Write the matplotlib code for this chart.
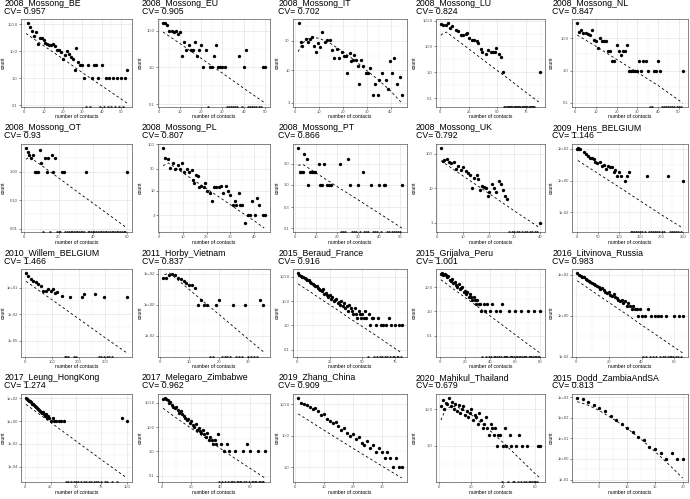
import numpy as np
import matplotlib.pyplot as plt
from matplotlib.ticker import NullFormatter

plt.rcParams['font.family'] = ['Liberation Sans', 'DejaVu Sans']

W, H = 690, 499

# ---- data: contacts, counts, fitted curve, zero-count contacts ----
be_x = [2, 3, 4, 5, 6, 7, 8, 9, 10, 11, 12, 13, 14, 15, 16, 17, 18, 19, 20, 21, 22, 23, 24, 25, 26, 27, 28, 29, 30, 31, 33, 35, 36, 37, 38, 40, 42, 44, 46, 48, 50, 52, 53]
be_n = [110, 80, 58, 36, 52, 18, 30, 30, 25, 20, 18, 17, 17, 18, 15, 11, 11, 9, 5, 7, 10, 8, 6, 5, 2, 13, 4, 3, 3, 1, 3, 1, 3, 3, 1, 3, 1, 1, 1, 1, 1, 1, 2]
be_fx = [1, 10, 20, 30, 40, 53]
be_fy = [45, 16, 5.2, 1.6, 0.52, 0.12]
be_zero = [32, 34, 39, 41, 43, 45, 47, 49, 51]

eu_x = [2, 3, 4, 5, 6, 7, 8, 9, 10, 11, 12, 13, 14, 15, 16, 17, 18, 19, 20, 21, 22, 24, 25, 26, 27, 28, 29, 30, 31, 38, 40, 41, 49, 50]
eu_n = [16, 16, 14, 10, 10, 9, 10, 8, 9, 2, 5, 3, 4, 3, 3, 5, 2, 3, 4, 1, 3, 1, 1, 2, 4, 1, 1, 1, 1, 2, 1, 3, 1, 1]
eu_fx = [2, 10, 20, 30, 40, 50]
eu_fy = [9.1, 4.4, 1.74, 0.69, 0.27, 0.107]
eu_zero = [23, 32, 33, 34, 35, 36, 37, 39, 42, 43, 44, 45, 46, 47, 48]

it_x = [1.5, 2.4, 3.1, 4.4, 5.5, 6.4, 7.1, 7.8, 8.9, 9.5, 10.5, 11.4, 12.5, 13.4, 14.5, 15.4, 16.5, 17.6, 18.5, 19.5,
        20.4, 21.2, 21.7, 22.8, 23.6, 24.2, 24.6, 25.5, 26.3, 26.8, 27.5, 28.6, 29.5, 30.6, 31.5, 32.6, 33.6, 34.6, 35.3, 36.6,
        37.9, 38.9, 39.6, 40.4, 41.3, 42.7, 43.8, 44.7]
it_n = [58, 29, 25, 32, 29, 32, 34, 25, 20, 28, 24, 41, 29, 31, 31, 21, 16, 22, 16, 20,
        17, 17, 9, 19, 14, 15, 18, 15, 12, 6, 15, 12, 9, 9, 11, 4, 6, 4, 7, 9,
        7, 5, 14, 9, 16, 6, 8, 4]
it_fx = [1.3, 3, 5, 7, 10, 15, 20, 25, 30, 35, 40, 44.7]
it_fy = [20, 27, 32, 34, 33, 27, 20, 14.5, 10, 7, 4.7, 3.0]
it_zero = []

lu_x = [1, 3, 5, 7, 9, 11, 14, 16, 18, 20, 23, 24, 25, 28, 30, 32, 33, 36, 37, 40, 42, 44, 46, 48, 49, 51, 53, 55, 87]
lu_n = [76, 70, 66, 81, 52, 61, 45, 39, 27, 27, 30, 34, 22, 18, 17, 16, 13, 8, 6, 5, 7, 6, 6, 6, 9, 5, 4, 1, 1]
lu_fx = [1, 3, 6, 10, 20, 30, 40, 50, 60, 70, 80, 87]
lu_fy = [27, 33, 36, 26, 12, 5.5, 2.5, 1.15, 0.54, 0.24, 0.11, 0.064]
lu_zero = [56, 57, 58, 59, 60, 61, 62, 63, 64, 65, 66, 67, 68, 69, 70, 71, 72, 73, 74, 75, 76, 77, 78, 79, 80, 81, 82]

nl_x = [1, 2, 3, 4, 5, 6, 7, 8, 9, 10, 11, 12, 13, 14, 15, 16, 17, 18, 19, 20, 21, 22, 23, 24, 25, 26, 27, 28, 29, 30,
        31, 32, 33, 34, 35, 38, 39, 40, 41, 52]
nl_n = [29, 15, 18, 14, 14, 13, 12, 18, 9, 8, 5, 10, 8, 8, 8, 4, 4, 2, 2, 6, 4, 3, 4, 4, 6, 1, 1, 1, 1, 1,
        2, 1, 2, 2, 1, 1, 1, 2, 1, 1]
nl_fx = [1, 10, 20, 30, 40, 52]
nl_fy = [12.3, 5.6, 2.2, 0.88, 0.35, 0.1]
nl_zero = [36, 37, 42, 43, 44, 45, 46, 47, 48, 49, 50, 51]

ot_x = [1, 2, 3, 4, 5, 6, 7, 8, 9, 10, 12, 13, 14, 16, 17, 18, 22, 23, 36, 60]
ot_n = [7, 5, 4, 3, 4, 1, 1, 1, 6, 2, 3, 1, 3, 4, 1, 3, 1, 1, 1, 1]
ot_fx = [1, 3, 10, 20, 30, 40, 50, 60]
ot_fy = [2.8, 3.4, 1.7, 0.62, 0.22, 0.08, 0.029, 0.0105]
ot_zero = [11, 15, 19, 20, 21, 24, 25, 26, 27, 28, 29, 30, 31, 32, 33, 34, 35, 37, 38, 39, 40, 41, 42, 43, 44,
           45, 46, 47, 48, 49, 50, 51, 52, 53, 54, 55, 56, 57, 58, 59]

pl_x = [1.7, 2.7, 3.8, 4.7, 5.8, 6.7, 7.8, 8.7, 9.7, 10.7, 11.7, 12.8, 13.7, 14.2, 14.8, 15.7, 16.5, 16.8, 17.7, 18.8,
        19.5, 20.4, 21.5, 22.5, 23.1, 24.2, 25.2, 26.2, 27.1, 28.2, 29.1, 29.9, 31.1, 31.8, 32.5, 33.6, 34.2, 34.9, 36.2, 37.3,
        38.3, 39.2, 40.3, 41.3, 42.3, 43.6, 44.6]
pl_n = [84, 51, 48, 31, 39, 29, 36, 29, 39, 25, 29, 26, 28, 17, 15, 22, 21, 12, 13, 12,
        15, 10, 9, 6, 12, 12, 12, 13, 9, 13, 10, 8, 5, 6, 5, 9, 5, 5, 2, 3,
        3, 6, 3, 7, 5, 3, 3]
pl_fx = [1.7, 4, 8, 15, 20, 25, 30, 35, 40, 44.3]
pl_fy = [35, 40, 29, 16.6, 11.2, 7.6, 5.1, 3.4, 2.3, 1.6]
pl_zero = []

pt_x = [1.6, 2.3, 3.1, 3.9, 4.5, 5.6, 6.2, 7.4, 8.2, 9.0, 9.8, 11.3, 12.1, 12.9, 14.1, 15.2, 16.3, 17.2, 21.4, 25.3,
        26.2, 30.2, 32.2, 36.1, 40.0, 42.3, 43.1, 50.9]
pt_n = [7, 2, 2, 2, 5, 4, 1, 2, 2, 2, 2, 3, 1, 1, 3, 1, 1, 1, 3, 4, 1, 1, 2, 1, 1, 1, 1, 1]
pt_fx = [1.6, 4, 10, 20, 30, 40, 50.9]
pt_fy = [2.8, 2.9, 1.87, 0.91, 0.45, 0.22, 0.1]
pt_zero = [22, 23, 24, 27, 28, 29, 31, 33, 34, 35, 37, 38, 39, 41, 44, 45, 46, 47, 48, 49, 50]

uk_x = [1.5, 2.2, 2.8, 3.7, 4.6, 5.5, 6.4, 7.4, 8.3, 9.2, 10.1, 11.1, 11.9, 12.7, 13.5, 14.4, 15.4, 16.0, 16.6, 17.5,
        18.1, 19.1, 19.7, 20.3, 21.2, 22.2, 23.0, 24.0, 24.9, 25.5, 26.5, 27.3, 40.0]
uk_n = [148, 63, 66, 71, 59, 54, 59, 37, 45, 34, 42, 32, 28, 25, 10, 20, 24, 18, 9, 12,
        11, 10, 6, 8, 13, 10, 8, 16, 13, 9, 6, 5, 1]
uk_fx = [1.5, 10, 20, 30, 40]
uk_fy = [63, 23, 7.2, 2.2, 0.7]
uk_zero = [28, 29, 30, 31, 32, 33, 34, 35, 36, 37, 38, 39]

hens_x = [1, 2, 4, 8, 16.5, 20.6, 26.4, 31.4, 35.5, 39.6, 43.7, 47.9, 53.6, 59.4, 64.4, 70, 74, 78, 82.5, 86.6,
          90.8, 94.9, 99, 104.8, 113, 118, 123.8, 165, 214.5, 250]
hens_n = [105, 115, 100, 95, 67, 45, 35, 27, 27, 24, 16, 13, 15, 8, 9, 5.4, 8, 7.5, 7, 3.5,
          4.5, 2, 3.5, 2, 1, 2, 3.5, 2, 2, 1]
hens_fx = [2.5, 50, 100, 150, 200, 250]
hens_fy = [18.6, 2.8, 0.38, 0.051, 0.0068, 0.001]
hens_zero = [127, 130, 135, 140, 145, 150, 155, 160, 170, 175, 180, 185, 190, 195, 200, 205, 220, 225, 230, 235, 240, 245]

wi_x = [4, 12.5, 22.5, 31, 40, 50, 59, 69, 77.5, 87.5, 96, 106, 112.5, 119, 137.5, 169, 212, 222, 262, 294, 381]
wi_n = [490, 205, 100, 66, 44, 28, 18, 5, 5, 7.7, 4.2, 7.7, 2.7, 3.3, 1.1, 1, 1, 2, 2, 1, 1]
wi_fx = [4, 100, 200, 300, 381]
wi_fy = [56, 0.47, 0.0032, 2.1e-5, 4e-7]
wi_zero = [150, 155, 160, 185, 190, 275, 285, 295, 305, 315, 325]

hb_x = [1, 2, 3, 4, 5, 6, 7, 8, 9, 10, 11, 12, 13, 14, 15, 16, 19, 20, 25, 29, 34, 35]
hb_n = [50, 55, 80, 90, 88, 55, 45, 32, 24, 20, 18, 12, 1, 2, 1, 1, 1, 2, 1, 1, 2, 1]
hb_fx = [1.5, 3.2, 5, 10, 15, 20, 25, 30, 35.8]
hb_fy = [87, 110, 57, 9.3, 1.5, 0.25, 0.04, 0.0065, 0.0008]
hb_zero = [17, 18, 21, 22, 23, 24, 26, 27, 28, 30, 31, 32, 33]

br_x = [1, 2, 3, 4, 5, 6, 7, 8, 9, 10, 11, 12, 13, 14, 15, 16, 17, 18, 19, 20, 21, 22, 23, 24, 25, 26, 27, 28, 29, 30,
        31, 32, 33, 34, 35, 36, 37, 38, 39, 40, 41, 42, 43, 44, 45, 46, 47, 48, 49, 50, 51, 52, 53, 55, 56, 57, 58,
        60, 62, 64, 66, 68, 70, 72, 75, 78, 80]
br_n = [140, 120, 110, 100, 95, 90, 80, 70, 75, 60, 55, 50, 45, 40, 42, 35, 30, 28, 25, 30, 20, 22, 18, 15, 17, 12, 14, 10, 11, 12,
        8, 9, 7, 10, 6, 8, 5, 6, 4, 7, 5, 4, 3, 5, 3, 2, 4, 3, 2, 3, 2, 4, 2, 3, 1, 2, 2,
        1, 2, 1, 1, 1, 2, 1, 1, 1, 1]
br_fx = [1, 10, 20, 30, 40, 50, 60, 70, 80]
br_fy = [50, 24, 10.5, 4.7, 2.0, 0.9, 0.4, 0.17, 0.075]
br_zero = [54, 59, 61, 63, 65, 67, 69, 71, 73, 74, 76, 77, 79]

gr_x = [1, 2, 3, 4, 5, 6, 7, 8, 9, 10, 11, 12, 13, 14, 15, 16, 17, 18, 19, 20, 21, 22, 23, 24, 25, 26, 27, 28, 29, 30,
        31, 32, 33, 35, 36, 38, 40, 42, 45, 48, 50, 55, 60, 65, 70, 75, 80]
gr_n = [35, 38, 30, 35, 30, 25, 28, 20, 18, 22, 15, 16, 12, 10, 14, 8, 9, 10, 6, 7, 5, 6, 4, 5, 4, 3, 4, 3, 2, 3,
        2, 2, 1, 2, 1, 2, 1, 2, 1, 1, 2, 1, 1, 1, 1, 1, 1]
gr_fx = [1, 10, 20, 30, 40, 50, 60, 70, 80]
gr_fy = [20, 9, 3.8, 1.6, 0.65, 0.27, 0.11, 0.045, 0.019]
gr_zero = [34, 37, 39, 41, 43, 44, 46, 47, 49, 51, 52, 53, 54, 56, 57, 58, 59, 61, 62, 63, 64, 66, 67, 68, 69,
           71, 72, 73, 74, 76, 77, 78, 79]

lv_x = [1, 2, 3, 4, 5, 6, 7, 8, 9, 10, 11, 12, 13, 14, 15, 16, 17, 18, 19, 20, 21, 22, 23, 24, 25, 26, 27, 28, 29, 30,
        31, 32, 33, 34, 35, 36, 37, 38, 39, 40, 42, 44, 46, 48, 50, 52, 55, 60, 63, 65]
lv_n = [120, 100, 90, 80, 75, 60, 55, 50, 45, 40, 35, 30, 28, 25, 20, 22, 18, 15, 12, 14, 10, 9, 11, 8, 7, 6, 5, 6, 4, 5,
        3, 4, 3, 2, 3, 2, 2, 1, 2, 1, 1, 2, 1, 1, 1, 1, 1, 1, 1, 1]
lv_fx = [1, 10, 20, 30, 40, 50, 60, 65]
lv_fy = [50, 16, 4.5, 1.3, 0.35, 0.1, 0.028, 0.015]
lv_zero = [41, 43, 45, 47, 49, 51, 53, 54, 56, 57, 58, 59, 61, 62, 64]

lg_x = [1, 2, 3, 4, 5, 6, 7, 8, 9, 10, 11, 12, 13, 14, 15, 16, 17, 18, 19, 20, 21, 22, 23, 24, 25,
        27, 28, 30, 33, 35, 38, 95, 100]
lg_n = [110, 90, 80, 60, 55, 45, 35, 30, 25, 20, 18, 15, 12, 10, 8, 7, 5, 6, 4, 3, 4, 2, 3, 2, 1,
        2, 1, 1, 1, 1, 1, 2, 1]
lg_fx = [1, 25, 50, 75, 100]
lg_fy = [30, 0.8, 0.018, 4e-4, 1e-5]
lg_zero = [40, 42, 45, 48, 50, 52, 55, 58, 60, 63, 65, 68, 70, 72, 75, 78, 80, 85, 90]

mg_x = [1, 2, 3, 4, 5, 6, 7, 8, 9, 10, 11, 12, 13, 14, 15, 16, 17, 18, 19, 20, 21, 22, 23, 24, 25, 26, 27, 28, 29, 30,
        31, 32, 33, 34, 35, 36, 37, 38, 40, 42, 44, 46, 50, 55, 58, 60, 65, 70]
mg_n = [150, 160, 140, 130, 100, 110, 80, 70, 60, 65, 50, 40, 45, 35, 30, 25, 20, 22, 15, 18, 12, 10, 14, 8, 9, 7, 6, 8, 5, 4,
        6, 3, 4, 3, 2, 3, 2, 5, 2, 1, 2, 1, 1, 1, 2, 1, 1, 1]
mg_fx = [1, 10, 20, 30, 40, 50, 60, 70]
mg_fy = [60, 24, 9, 3.5, 1.3, 0.5, 0.2, 0.08]
mg_zero = [39, 41, 43, 45, 47, 48, 49, 51, 52, 53, 54, 56, 57, 59, 61, 62, 63, 64, 66, 67, 68, 69]

zh_x = [1, 2, 3, 4, 5, 6, 7, 8, 9, 10, 11, 12, 13, 14, 15, 16, 17, 18, 19, 20, 21, 22, 23, 24, 25, 26, 27, 28, 29, 30,
        31, 32, 33, 34, 35, 36, 37]
zh_n = [160, 110, 100, 95, 80, 70, 75, 60, 45, 50, 35, 30, 25, 28, 20, 15, 18, 12, 10, 11, 8, 9, 6, 5, 7, 4, 5, 3, 4, 3,
        2, 3, 2, 1, 2, 1, 1]
zh_fx = [1, 10, 20, 30, 37]
zh_fy = [50, 15, 4, 1.1, 0.45]
zh_zero = []

mh_x = [1, 2, 3, 4, 5, 6, 7, 8, 9, 10, 11, 12, 13, 14, 15, 16, 17, 18, 19, 20, 21, 22, 23, 24, 25, 26, 27, 28, 29, 30,
        31, 32, 33, 34, 35, 36, 37, 38, 40, 41, 42, 44, 45, 48, 50, 52, 55, 62, 63]
mh_n = [12, 18, 10, 15, 14, 20, 12, 16, 10, 14, 9, 13, 8, 10, 12, 7, 9, 6, 8, 10, 5, 7, 6, 4, 8, 5, 3, 4, 6, 3,
        2, 4, 3, 2, 3, 1, 2, 2, 1, 3, 1, 2, 1, 1, 2, 1, 1, 1, 1]
mh_fx = [1, 4, 8, 12, 20, 30, 40, 50, 60, 63]
mh_fy = [5, 10, 12, 11, 7, 3, 1.2, 0.45, 0.17, 0.13]
mh_zero = [39, 43, 46, 47, 49, 51, 53, 54, 56, 57, 58, 59, 60, 61]

dd_x = [1, 2, 3, 4, 5, 6, 7, 8, 9, 10, 11, 12, 13, 14, 15, 16, 17, 18, 19, 20]
dd_n = [900, 800, 600, 400, 300, 200, 120, 80, 50, 30, 20, 12, 8, 4, 3, 2, 1, 2, 1, 1]
dd_fx = [1, 3, 5, 8, 10, 13, 16, 18, 20]
dd_fy = [600, 400, 220, 70, 30, 7, 1.3, 0.4, 0.12]
dd_zero = []

# tick breaks and labels
dec_t = [0.1, 1, 10, 100]
dec_l = ["0.1", "1.0", "10.0", "100.0"]
sci2_t = [1e-2, 1, 1e2]
sci2_l = ["1e-02", "1e+00", "1e+02"]

panels = [
    ("2008_Mossong_BE", "0.957", be_x, be_n, be_fx, be_fy, be_zero, [0, 10, 20, 30, 40, 50], dec_t, dec_l),
    ("2008_Mossong_EU", "0.905", eu_x, eu_n, eu_fx, eu_fy, eu_zero, [0, 10, 20, 30, 40, 50], dec_t, dec_l),
    ("2008_Mossong_IT", "0.702", it_x, it_n, it_fx, it_fy, it_zero, [0, 10, 20, 30, 40], [3, 10, 30], ["3", "10", "30"]),
    ("2008_Mossong_LU", "0.824", lu_x, lu_n, lu_fx, lu_fy, lu_zero, [0, 25, 50, 75], dec_t, dec_l),
    ("2008_Mossong_NL", "0.847", nl_x, nl_n, nl_fx, nl_fy, nl_zero, [0, 10, 20, 30, 40, 50], dec_t, dec_l),
    ("2008_Mossong_OT", "0.93", ot_x, ot_n, ot_fx, ot_fy, ot_zero, [0, 20, 40, 60], [0.01, 0.1, 1], ["0.01", "0.10", "1.00"]),
    ("2008_Mossong_PL", "0.807", pl_x, pl_n, pl_fx, pl_fy, pl_zero, [0, 10, 20, 30, 40], [3, 10, 30, 100], ["3", "10", "30", "100"]),
    ("2008_Mossong_PT", "0.866", pt_x, pt_n, pt_fx, pt_fy, pt_zero, [0, 10, 20, 30, 40, 50], [0.1, 0.3, 1, 3], ["0.1", "0.3", "1.0", "3.0"]),
    ("2008_Mossong_UK", "0.792", uk_x, uk_n, uk_fx, uk_fy, uk_zero, [0, 10, 20, 30, 40], [1, 10, 100], ["1", "10", "100"]),
    ("2009_Hens_BELGIUM", "1.146", hens_x, hens_n, hens_fx, hens_fy, hens_zero, [0, 50, 100, 150, 200, 250], sci2_t, sci2_l),
    ("2010_Willem_BELGIUM", "1.466", wi_x, wi_n, wi_fx, wi_fy, wi_zero, [0, 100, 200, 300], [1e-5, 1e-2, 1e1], ["1e-05", "1e-02", "1e+01"]),
    ("2011_Horby_Vietnam", "0.837", hb_x, hb_n, hb_fx, hb_fy, hb_zero, [0, 10, 20, 30], sci2_t, sci2_l),
    ("2015_Beraud_France", "0.916", br_x, br_n, br_fx, br_fy, br_zero, [0, 25, 50, 75], dec_t, dec_l),
    ("2015_Grijalva_Peru", "1.001", gr_x, gr_n, gr_fx, gr_fy, gr_zero, [0, 20, 40, 60, 80], dec_t, dec_l),
    ("2016_Litvinova_Russia", "0.983", lv_x, lv_n, lv_fx, lv_fy, lv_zero, [0, 20, 40, 60], sci2_t, sci2_l),
    ("2017_Leung_HongKong", "1.274", lg_x, lg_n, lg_fx, lg_fy, lg_zero, [0, 25, 50, 75, 100], [1e-4, 1e-2, 1, 1e2], ["1e-04", "1e-02", "1e+00", "1e+02"]),
    ("2017_Melegaro_Zimbabwe", "0.962", mg_x, mg_n, mg_fx, mg_fy, mg_zero, [0, 20, 40, 60], dec_t, dec_l),
    ("2019_Zhang_China", "0.909", zh_x, zh_n, zh_fx, zh_fy, zh_zero, [0, 10, 20, 30], dec_t, dec_l),
    ("2020_Mahikul_Thailand", "0.679", mh_x, mh_n, mh_fx, mh_fy, mh_zero, [0, 20, 40, 60], dec_t, dec_l),
    ("2015_Dodd_ZambiaAndSA", "0.813", dd_x, dd_n, dd_fx, dd_fy, dd_zero, [0, 5, 10, 15, 20],
     [0.1, 1, 10, 100, 1000], ["1e-01", "1e+00", "1e+01", "1e+02", "1e+03"]),
]

# layout in pixels
col_left = [21, 158, 293, 436, 572]
col_right = [132, 270, 407, 545, 688]
cell_left = [0, 137, 274, 411, 548]
row_top = [19, 144, 269, 394]
ph = 88


def mids(t):
    ext = [t[0] - (t[1] - t[0])] + list(t) + [t[-1] + (t[-1] - t[-2])]
    return [(a + b) / 2 for a, b in zip(ext[:-1], ext[1:])]


fig = plt.figure(figsize=(W / 100, H / 100), dpi=100)

for i, (name, cv, x, n, fx, fy, zx, xt, yt, yl) in enumerate(panels):
    r, c = divmod(i, 5)
    L, R, T = col_left[c], col_right[c], row_top[r]
    ax = fig.add_axes([L / W, 1 - (T + ph) / H, (R - L) / W, ph / H])
    ax.set_yscale('log')

    allx = list(x) + list(fx) + list(zx)
    x0, x1 = min(allx), max(allx)
    dx = 0.05 * (x1 - x0)
    ax.set_xlim(x0 - dx, x1 + dx)
    ly = np.log10(list(n) + list(fy))
    dy = 0.05 * (ly.max() - ly.min())
    ylo, yhi = 10 ** (ly.min() - dy), 10 ** (ly.max() + dy)
    ax.set_ylim(ylo, yhi)

    # ticks and grid (ggplot theme_bw look)
    xin = [v for v in xt if x0 - dx <= v <= x1 + dx]
    ax.set_xticks(xin)
    ax.set_xticks([v for v in mids(xt) if x0 - dx <= v <= x1 + dx], minor=True)
    yin = [(v, s) for v, s in zip(yt, yl) if ylo <= v <= yhi]
    ax.set_yticks([v for v, s in yin])
    ax.set_yticklabels([s for v, s in yin])
    ymin = [10 ** v for v in mids(list(np.log10(yt)))]
    ax.set_yticks([v for v in ymin if ylo <= v <= yhi], minor=True)
    ax.yaxis.set_minor_formatter(NullFormatter())
    ax.grid(which='major', color='#E4E4E4', lw=0.5)
    ax.grid(which='minor', color='#F0F0F0', lw=0.3)
    ax.set_axisbelow(True)
    ax.tick_params(which='major', length=1.3, width=0.4, color='#333333', pad=1,
                   labelsize=3.0, labelcolor='#4D4D4D')
    ax.tick_params(which='minor', length=0)
    for sp in ax.spines.values():
        sp.set_color('#444444')
        sp.set_linewidth(0.45)

    ax.plot(fx, fy, color='black', lw=0.6, ls=(0, (3, 3)))
    ax.plot(x, n, 'o', ms=2.4, color='black', mec='none')
    ax.plot(zx, [ylo] * len(zx), 'o', ms=1.8, color='black', mec='none', clip_on=True)

    fig.text((cell_left[c] + 4.5) / W, 1 - (T - 16) / H, name, fontsize=6.3, va='center', ha='left')
    fig.text((cell_left[c] + 4.5) / W, 1 - (T - 8) / H, "CV= " + cv, fontsize=6.3, va='center', ha='left')
    fig.text((cell_left[c] + 3.5) / W, 1 - (T + ph / 2) / H, "count", rotation=90,
             fontsize=3.6, va='center', ha='center')
    fig.text((L + R) / 2 / W, 1 - (T + ph + 10) / H, "number of contacts",
             fontsize=3.6, va='center', ha='center')

fig.savefig("out.png", dpi=100)
